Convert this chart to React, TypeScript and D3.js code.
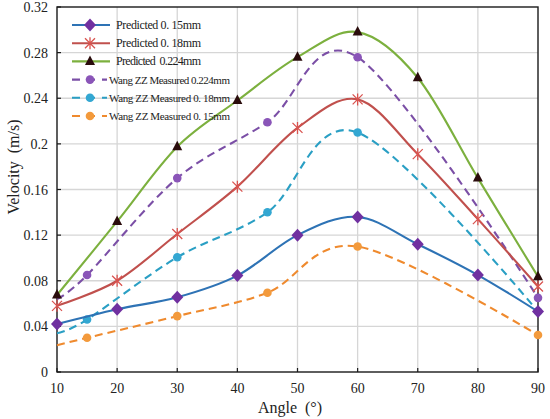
import React, { useEffect, useRef } from 'react';
import * as d3 from 'd3';

// angles used by the model
const predAngles = [10, 20, 30, 40, 50, 60, 70, 80, 90];
const pred015 = [0.042, 0.055, 0.0655, 0.0845, 0.12, 0.136, 0.112, 0.085, 0.053];
const pred018 = [0.058, 0.08, 0.121, 0.1625, 0.214, 0.239, 0.191, 0.134, 0.075];
const pred0224 = [0.0675, 0.132, 0.1975, 0.238, 0.276, 0.298, 0.258, 0.17, 0.0836];

// measured (Wang ZZ) — first point has no marker in the original
const measAngles = [10, 15, 30, 45, 60, 90];
const meas0224 = [0.064, 0.085, 0.17, 0.219, 0.276, 0.065];
const meas018 = [0.034, 0.046, 0.1006, 0.14, 0.21, 0.053];
const meas015 = [0.0235, 0.03, 0.049, 0.0695, 0.11, 0.0324];

const xTicks = [10, 20, 30, 40, 50, 60, 70, 80, 90];
const yTicks = [0, 0.04, 0.08, 0.12, 0.16, 0.2, 0.24, 0.28, 0.32];
const yTickLabels = ['0', '0.04', '0.08', '0.12', '0.16', '0.2', '0.24', '0.28', '0.32'];

const series = [
  { name: 'Predicted 0. 15mm', xs: predAngles, ys: pred015, color: '#2e73b5', marker: 'diamond', mcolor: '#7030a0', dashed: false },
  { name: 'Predicted 0. 18mm', xs: predAngles, ys: pred018, color: '#c0504d', marker: 'x', mcolor: '#d9534f', dashed: false },
  { name: 'Predicted  0.224mm', xs: predAngles, ys: pred0224, color: '#7cb03e', marker: 'triangle', mcolor: '#2a0c0c', dashed: false },
  { name: 'Wang ZZ Measured 0.224mm', xs: measAngles, ys: meas0224, color: '#7b4fa6', marker: 'circle', mcolor: '#8a55b8', dashed: true },
  { name: 'Wang ZZ Measured 0. 18mm', xs: measAngles, ys: meas018, color: '#2a9fc4', marker: 'circle', mcolor: '#33a7d2', dashed: true },
  { name: 'Wang ZZ Measured 0. 15mm', xs: measAngles, ys: meas015, color: '#ef8a2e', marker: 'circle', mcolor: '#f39a3c', dashed: true },
];

const App = () => {
  const svgRef = useRef(null);

  useEffect(() => {
    const W = 550;
    const H = 419;
    const margin = { top: 7, right: 12, bottom: 47, left: 57 };
    const svg = d3.select(svgRef.current);
    svg.selectAll('*').remove();

    const x = d3.scaleLinear().domain([10, 90]).range([margin.left, W - margin.right]);
    const y = d3.scaleLinear().domain([0, 0.32]).range([H - margin.bottom, margin.top]);

    svg.append('rect').attr('width', W).attr('height', H).attr('fill', '#fff');

    // grid
    const grid = svg.append('g').attr('stroke', '#d6d6d6').attr('stroke-width', 1.3);
    xTicks.slice(1, -1).forEach((t) => {
      grid.append('line').attr('x1', x(t)).attr('x2', x(t)).attr('y1', y(0)).attr('y2', y(0.32));
    });
    yTicks.slice(1, -1).forEach((t) => {
      grid.append('line').attr('x1', x(10)).attr('x2', x(90)).attr('y1', y(t)).attr('y2', y(t));
    });

    // frame
    svg
      .append('rect')
      .attr('x', x(10))
      .attr('y', y(0.32))
      .attr('width', x(90) - x(10))
      .attr('height', y(0) - y(0.32))
      .attr('fill', 'none')
      .attr('stroke', '#1a1a1a')
      .attr('stroke-width', 1.4);

    const ticks = svg.append('g').attr('stroke', '#1a1a1a').attr('stroke-width', 1.2);
    yTicks.forEach((t) => {
      ticks.append('line').attr('x1', x(10)).attr('x2', x(10) + 4).attr('y1', y(t)).attr('y2', y(t));
    });
    xTicks.forEach((t) => {
      ticks.append('line').attr('x1', x(t)).attr('x2', x(t)).attr('y1', y(0)).attr('y2', y(0) - 4);
    });

    const font = '"Liberation Serif", "Times New Roman", serif';

    // tick labels
    svg
      .append('g')
      .selectAll('text')
      .data(yTicks)
      .join('text')
      .attr('x', x(10) - 9)
      .attr('y', (d) => y(d) + 5)
      .attr('text-anchor', 'end')
      .attr('font-family', font)
      .attr('font-size', 14)
      .attr('fill', '#222')
      .text((d, i) => yTickLabels[i]);

    svg
      .append('g')
      .selectAll('text')
      .data(xTicks)
      .join('text')
      .attr('x', (d) => x(d))
      .attr('y', y(0) + 21)
      .attr('text-anchor', 'middle')
      .attr('font-family', font)
      .attr('font-size', 14)
      .attr('fill', '#222')
      .text((d) => d);

    // axis titles
    svg
      .append('text')
      .attr('x', 290)
      .attr('y', 413)
      .attr('text-anchor', 'middle')
      .attr('font-family', font)
      .attr('font-size', 16)
      .attr('fill', '#222')
      .style('white-space', 'pre')
      .text('Angle  (°)');

    svg
      .append('text')
      .attr('transform', `translate(19, 167) rotate(-90)`)
      .attr('text-anchor', 'middle')
      .attr('font-family', font)
      .attr('font-size', 16)
      .attr('fill', '#222')
      .style('white-space', 'pre')
      .text('Velocity  (m/s)');

    const line = d3
      .line()
      .x((d) => x(d[0]))
      .y((d) => y(d[1]))
      .curve(d3.curveCatmullRom.alpha(0));

    const drawMarker = (g, type, color, cx, cy) => {
      if (type === 'diamond') {
        g.append('path')
          .attr('d', `M${cx},${cy - 6.5}L${cx + 6},${cy}L${cx},${cy + 6.5}L${cx - 6},${cy}Z`)
          .attr('fill', color);
      } else if (type === 'triangle') {
        g.append('path')
          .attr('d', `M${cx},${cy - 6}L${cx + 5},${cy + 3.5}L${cx - 5},${cy + 3.5}Z`)
          .attr('fill', color);
      } else if (type === 'x') {
        const s = 5;
        g.append('path')
          .attr('d', `M${cx - s},${cy - s}L${cx + s},${cy + s}M${cx - s},${cy + s}L${cx + s},${cy - s}M${cx},${cy - s - 1}L${cx},${cy + s + 1}`)
          .attr('stroke', color)
          .attr('stroke-width', 1.3)
          .attr('fill', 'none');
      } else {
        g.append('circle').attr('cx', cx).attr('cy', cy).attr('r', 4.3).attr('fill', color);
      }
    };

    // series, drawn bottom-up so predicted lines sit on top
    const order = [5, 4, 3, 0, 1, 2];
    order.forEach((si) => {
      const s = series[si];
      const pts = s.xs.map((a, i) => [a, s.ys[i]]);
      const g = svg.append('g');
      g.append('path')
        .attr('d', line(pts))
        .attr('fill', 'none')
        .attr('stroke', s.color)
        .attr('stroke-width', 2.1)
        .attr('stroke-dasharray', s.dashed ? '8,5' : null);
      pts.forEach((p, i) => {
        if (s.dashed && i === 0) return;
        drawMarker(g, s.marker, s.mcolor, x(p[0]), y(p[1]));
      });
    });

    // legend
    const lg = svg.append('g');
    series.forEach((s, i) => {
      const ly = 25 + i * 18.2;
      lg.append('line')
        .attr('x1', 72)
        .attr('x2', s.dashed ? 107 : 110)
        .attr('y1', ly)
        .attr('y2', ly)
        .attr('stroke', s.color)
        .attr('stroke-width', 2.1)
        .attr('stroke-dasharray', s.dashed ? '8,7' : null);
      drawMarker(lg, s.marker, s.mcolor, 90, ly);
      lg.append('text')
        .attr('x', s.dashed ? 109 : 116)
        .attr('y', ly + 4)
        .attr('font-family', font)
        .attr('font-size', s.dashed ? 11 : 12)
        .attr('fill', '#222')
        .attr('textLength', s.dashed ? 121 : 85)
        .style('white-space', 'pre')
        .text(s.name);
    });
  }, []);

  return (
    <svg
      ref={svgRef}
      width={550}
      height={419}
      style={{ position: 'absolute', left: 0, top: 0 }}
    ></svg>
  );
};

export default App;
